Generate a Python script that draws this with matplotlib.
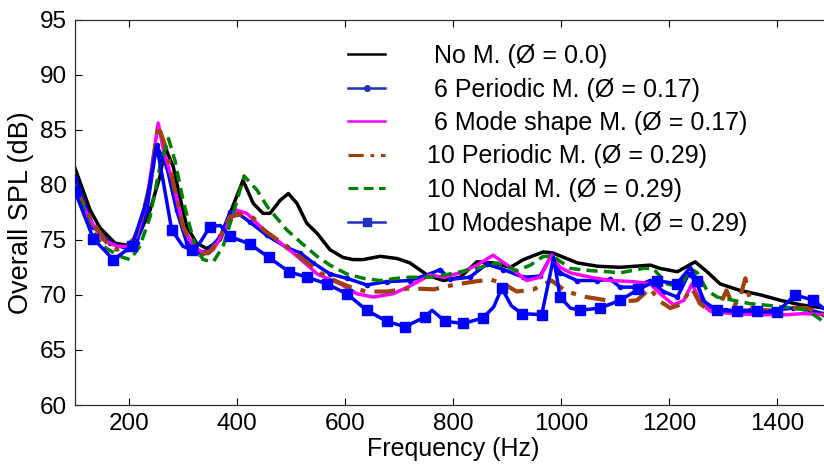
import matplotlib
matplotlib.use("Agg")
import matplotlib.pyplot as plt
from matplotlib.lines import Line2D

plt.rcParams['font.family'] = ['Liberation Sans', 'DejaVu Sans']

# ---------------- data ----------------
f_none = [100, 128, 146, 174, 196, 220, 239, 257, 267, 282, 294, 307, 325, 344, 369, 387, 411, 430, 448, 461,
          480, 495, 511, 529, 548, 572, 596, 615, 633, 665, 696, 720, 752, 782, 813, 844, 874, 906, 930, 967,
          985, 1000, 1030, 1067, 1109, 1165, 1183, 1215, 1248, 1270, 1294, 1331, 1369, 1406, 1443, 1485]
spl_none = [81.5, 77.7, 76.1, 74.7, 74.5, 75.6, 77.7, 80.7, 83.4, 81.6, 78.9, 76.2, 74.7, 74.2, 75.0, 77.4, 80.4, 78.3, 77.4, 77.4,
            78.6, 79.2, 78.3, 76.5, 75.6, 74.1, 73.4, 73.2, 73.2, 73.5, 73.3, 72.9, 71.8, 71.3, 71.6, 73.0, 72.9, 72.5, 73.2, 73.9,
            73.8, 73.5, 72.9, 72.6, 72.5, 72.7, 72.4, 72.1, 73.0, 72.1, 71.0, 70.4, 70.0, 69.5, 69.1, 68.8]

f_p6 = [100, 134, 165, 196, 214, 233, 251, 270, 288, 307, 325, 344, 369, 387, 399, 424, 455, 492, 517, 541,
        572, 603, 640, 677, 720, 757, 776, 794, 831, 862, 893, 930, 961, 982, 998, 1029, 1066, 1091, 1109, 1134,
        1165, 1189, 1215, 1236, 1248, 1270, 1306, 1350, 1393, 1430, 1461, 1485]
spl_p6 = [80.6, 76.2, 74.7, 74.2, 74.7, 77.7, 83.6, 81.6, 77.7, 74.7, 73.9, 73.9, 75.3, 77.5, 77.5, 76.6, 75.4, 74.3, 73.8, 72.9,
          71.9, 71.5, 70.9, 71.2, 71.3, 71.9, 72.3, 71.4, 71.6, 72.8, 72.3, 71.6, 71.7, 73.6, 72.0, 71.3, 71.3, 71.4, 70.7, 70.7,
          71.3, 70.3, 69.8, 71.9, 71.3, 68.9, 68.6, 68.6, 68.6, 68.8, 68.6, 68.3]

f_ms6 = [100, 128, 152, 177, 196, 214, 233, 254, 264, 282, 300, 319, 338, 356, 381, 399, 418, 443, 473, 504,
         535, 548, 591, 622, 652, 689, 720, 757, 782, 813, 844, 874, 906, 936, 961, 982, 998, 1017, 1054, 1091,
         1134, 1165, 1183, 1208, 1227, 1242, 1257, 1276, 1319, 1369, 1419, 1448, 1485]
spl_ms6 = [79.6, 76.8, 75.0, 74.4, 74.4, 75.3, 78.6, 85.6, 83.1, 80.1, 76.2, 74.4, 73.8, 74.1, 76.2, 77.7, 77.4, 76.2, 75.0, 73.8,
           72.5, 71.9, 71.0, 70.1, 69.8, 70.1, 70.8, 71.8, 71.6, 72.0, 72.7, 73.6, 72.5, 71.3, 71.6, 73.6, 72.5, 72.0, 71.6, 71.3,
           71.2, 71.0, 70.1, 69.1, 69.5, 71.0, 69.5, 68.5, 68.3, 68.2, 68.2, 68.3, 68.2]

f_p10 = [100, 109, 134, 159, 177, 202, 220, 239, 254, 270, 282, 300, 319, 331, 350, 369, 387, 406, 430, 449,
         492, 523, 554, 585, 615, 640, 677, 720, 764, 800, 838, 869, 893, 918, 949, 982, 1010, 1047, 1085, 1109,
         1140, 1165, 1180, 1202, 1220, 1242, 1257, 1276, 1294, 1306, 1319, 1331, 1341, 1346, 1356, 1393, 1424, 1455, 1485]
spl_p10 = [79.8, 78.9, 76.5, 74.7, 74.1, 74.4, 76.2, 80.1, 85.4, 83.1, 80.1, 76.2, 74.1, 73.6, 73.9, 75.3, 77.1, 77.3, 77.0, 75.9,
           74.4, 73.2, 72.0, 71.2, 70.6, 70.3, 70.3, 70.6, 70.5, 70.9, 71.2, 71.4, 71.0, 70.3, 70.5, 71.3, 70.3, 69.8, 69.5, 69.4,
           69.5, 70.6, 69.5, 68.8, 69.1, 70.6, 69.2, 68.5, 69.1, 70.4, 68.9, 69.8, 71.5, 70.2, 68.6, 68.6, 68.8, 68.8, 68.2]

f_n10 = [100, 128, 152, 183, 202, 220, 239, 257, 273, 285, 300, 319, 337, 356, 374, 393, 413, 437, 456, 473,
         492, 517, 548, 572, 603, 634, 665, 696, 720, 757, 794, 844, 881, 918, 943, 967, 985, 1017, 1054, 1085,
         1109, 1152, 1170, 1196, 1220, 1239, 1252, 1270, 1289, 1319, 1350, 1393, 1430, 1455, 1485]
spl_n10 = [80.0, 76.2, 74.4, 73.5, 73.2, 74.4, 77.1, 81.6, 84.2, 82.2, 78.6, 75.0, 73.2, 73.0, 74.4, 77.4, 80.8, 79.5, 78.0, 77.0,
           75.9, 74.8, 73.5, 72.7, 71.9, 71.5, 71.3, 71.5, 71.6, 71.6, 71.9, 72.4, 72.9, 72.2, 72.7, 73.5, 73.5, 72.4, 72.2, 72.1,
           72.0, 72.4, 72.4, 71.0, 70.7, 72.4, 72.0, 70.4, 69.8, 69.5, 69.2, 69.0, 68.8, 68.6, 67.6]

f_ms10 = [100, 134, 171, 205, 233, 251, 264, 279, 300, 316, 331, 350, 369, 387, 424, 459, 496, 530, 566, 603,
          640, 677, 711, 748, 761, 785, 819, 855, 875, 890, 908, 927, 964, 986, 998, 1017, 1035, 1072, 1109, 1143,
          1177, 1214, 1239, 1251, 1262, 1288, 1325, 1362, 1399, 1433, 1467, 1485]
spl_ms10 = [79.4, 75.1, 73.2, 74.4, 78.6, 83.6, 80.1, 75.9, 74.4, 74.1, 74.7, 76.2, 76.3, 75.3, 74.6, 73.4, 72.1, 71.6, 71.0, 70.1,
            68.6, 67.6, 67.1, 68.0, 68.6, 67.6, 67.4, 67.9, 68.9, 70.6, 69.0, 68.3, 68.2, 73.4, 69.8, 68.8, 68.6, 68.8, 69.5, 70.5,
            71.3, 71.0, 72.5, 71.3, 69.5, 68.6, 68.5, 68.5, 68.4, 70.0, 69.5, 68.8]

labels = [" No M. (\u00d8 = 0.0)",
          " 6 Periodic M. (\u00d8 = 0.17)",
          " 6 Mode shape M. (\u00d8 = 0.17)",
          "10 Periodic M. (\u00d8 = 0.29)",
          "10 Nodal M. (\u00d8 = 0.29)",
          "10 Modeshape M. (\u00d8 = 0.29)"]

x_ticks = [200, 400, 600, 800, 1000, 1200, 1400]
y_ticks = [60, 65, 70, 75, 80, 85, 90, 95]

# ---------------- styles ----------------
C_BLACK = "#000000"
C_BLUE = "#0000ff"
C_MAG = "#ff00ff"
C_BROWN = "#a0400a"
C_GREEN = "#008000"
LW = 2.5

sq_idx = [0, 1, 2, 3, 7, 9, 11, 13, 14, 15, 16, 17, 18, 19, 20, 21, 22, 23, 25, 26, 27, 29, 31, 32, 34,
          36, 37, 38, 39, 40, 41, 43, 45, 46, 47, 48, 49, 50]

fig = plt.figure(figsize=(8.24, 4.68), dpi=100)
ax = fig.add_axes([75 / 824, 1 - 405 / 468, (831.3 - 75) / 824, (405 - 19.5) / 468])

ax.plot(f_none, spl_none, color=C_BLACK, lw=LW, zorder=2)
ax.plot(f_p6, spl_p6, color=C_BLUE, lw=LW, marker='o', ms=3, zorder=3)
ax.plot(f_ms6, spl_ms6, color=C_MAG, lw=LW, zorder=4)
ax.plot(f_p10, spl_p10, color=C_BROWN, lw=LW + 0.5, dashes=(5, 2.2, 1.2, 2.2), zorder=5)
ax.plot(f_n10, spl_n10, color=C_GREEN, lw=LW, dashes=(3.2, 1.8), zorder=6)
ax.plot(f_ms10, spl_ms10, color=C_BLUE, lw=LW, marker='s', ms=6.5, markevery=sq_idx, zorder=7)

ax.set_xlim(100, 1500)
ax.set_ylim(60, 95)
ax.set_xticks(x_ticks)
ax.set_yticks(y_ticks)
ax.tick_params(direction='in', length=5, width=0.8, top=True, right=True, labelsize=17.5, pad=6)
for s in ax.spines.values():
    s.set_linewidth(0.9)
    s.set_color("#303030")

ax.set_xlabel("Frequency (Hz)", fontsize=18, labelpad=1)
ax.set_ylabel("Overall SPL (dB)", fontsize=19.5, labelpad=4)

handles = [
    Line2D([], [], color=C_BLACK, lw=1.8),
    Line2D([], [], color="#2030c0", lw=1.8, marker='o', ms=4),
    Line2D([], [], color=C_MAG, lw=1.8),
    Line2D([], [], color=C_BROWN, lw=2.2, dashes=(5, 2.2, 1.2, 2.2)),
    Line2D([], [], color=C_GREEN, lw=2.2, dashes=(3.2, 1.8)),
    Line2D([], [], color="#2030c0", lw=1.8, marker='s', ms=6),
]
fig.legend(handles, labels, loc='upper left', bbox_to_anchor=(348 / 824, 1 - 44 / 468),
           frameon=False, fontsize=18, handlelength=1.48, handletextpad=1.68,
           labelspacing=0.38, borderpad=0, borderaxespad=0)

fig.savefig("out.png", dpi=100)
